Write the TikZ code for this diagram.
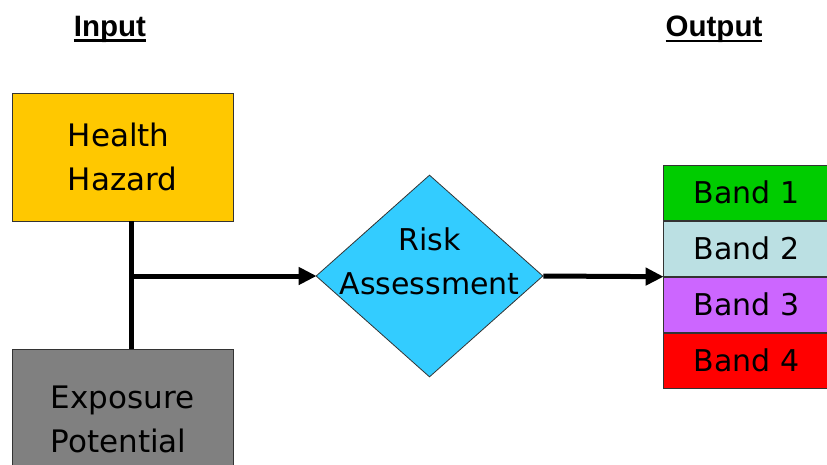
\documentclass[tikz,border=0pt]{standalone}
\usepackage{fontspec}
\setmainfont{DejaVu Sans}
\newfontfamily\headfont{Liberation Sans}
\usetikzlibrary{positioning, shapes.geometric, arrows.meta}

\definecolor{hazardyellow}{RGB}{255,200,0}
\definecolor{exposuregray}{RGB}{128,128,128}
\definecolor{riskcyan}{RGB}{51,204,255}
\definecolor{bandgreen}{RGB}{0,204,0}
\definecolor{bandblue}{RGB}{187,224,227}
\definecolor{bandpurple}{RGB}{204,102,255}
\definecolor{bandred}{RGB}{255,0,0}

\newcommand{\headunder}[1]{\setbox0\hbox{#1}\rlap{\copy0}\rule[-6pt]{\wd0}{2.6pt}}

\tikzset{
inputbox/.style={rectangle, draw=black!80, line width=0.8pt, align=left,
  minimum width=221pt,
  font=\fontsize{31}{44}\selectfont},
bandbox/.style={rectangle, draw=black!80, line width=0.8pt,
  minimum width=167pt, minimum height=55.25pt, inner sep=0pt,
  font=\fontsize{30}{36}\selectfont},
heading/.style={font=\headfont\bfseries\fontsize{29.5}{34}\selectfont},
flow/.style={line width=5pt, color=black},
}

\begin{document}
\begin{tikzpicture}[x=1pt, y=-1pt]

\useasboundingbox (0,0) rectangle (827,464);
\clip (0,0) rectangle (827,464);

\node[heading] (input-head) at (110, 29) {\headunder{Input}};
\node[heading] (output-head) at (714, 29) {\headunder{Output}};

\node[inputbox, fill=hazardyellow, minimum height=128pt]
(hazard) at (122.5, 157)
{Health\\Hazard};

\node[inputbox, fill=exposuregray, minimum height=140pt]
(exposure) at (122.5, 419)
{Exposure\\Potential};

\node[diamond, draw=black!80, line width=0.8pt, fill=riskcyan,
  minimum width=227pt, minimum height=202pt, inner sep=0pt]
(risk) at (429.5, 276) {};

\node[align=center, font=\fontsize{30}{44}\selectfont]
(risk-text) at (429.5, 261)
{Risk\\Assessment};

% output bands, stacked from the top
\node[bandbox, fill=bandgreen]  (band1) at (746.5, 192.6) {Band 1};
\node[bandbox, fill=bandblue]   (band2) [below=0pt of band1] {Band 2};
\node[bandbox, fill=bandpurple] (band3) [below=0pt of band2] {Band 3};
\node[bandbox, fill=bandred]    (band4) [below=0pt of band3] {Band 4};

\coordinate (junction) at (131, 276);

\draw[flow] (hazard.south -| junction) -- (exposure.north -| junction);
\draw[flow, -{Triangle[length=18pt, width=17pt]}, shorten >=-1pt]
(junction) -- (risk.west);
\draw[flow, -{Triangle[length=18pt, width=17pt]}, shorten >=-1pt]
(risk.east) -- (band2.south west);

\end{tikzpicture}
\end{document}
